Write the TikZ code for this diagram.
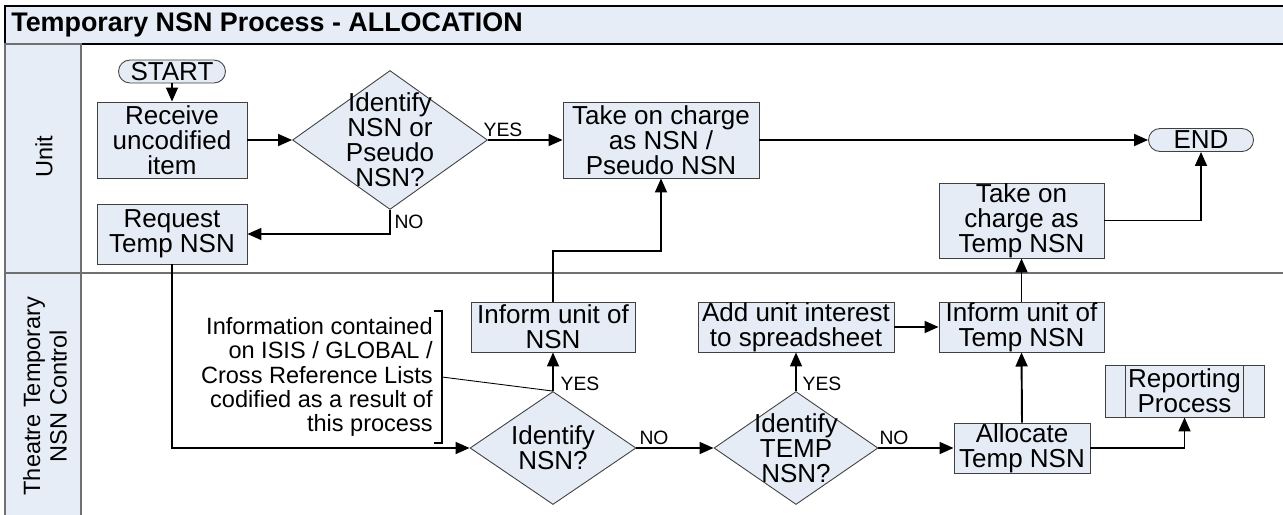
\documentclass[tikz,border=0pt]{standalone}
\usepackage{fontspec}
\setmainfont{Liberation Sans}
\usetikzlibrary{arrows.meta,shapes.geometric,calc}
\definecolor{boxfill}{HTML}{E6ECF6}
\definecolor{lanefill}{HTML}{E7EDF6}
\definecolor{boxline}{HTML}{404040}
\definecolor{laneline}{HTML}{707070}
\newcommand{\myboxfont}{\fontsize{14.8}{14.2}\selectfont\lineskiplimit=-20pt\relax}
\tikzset{
  boxfont/.style={font=\myboxfont},
  pbox/.style={draw=boxline, line width=0.5pt, fill=boxfill, align=center, inner sep=0pt, boxfont},
  term/.style={pbox, rounded corners=0.23cm},
  dia/.style={diamond, draw=boxline, line width=0.5pt, fill=boxfill, inner sep=0pt},
  dtext/.style={align=center, inner sep=0pt, boxfont},
  conn/.style={line width=1.1pt, -{Triangle[length=8pt,width=6.8pt]}},
  lbl/.style={font=\fontsize{11}{13}\selectfont, inner sep=1pt},
  lanetext/.style={rotate=90, align=center, font=\fontsize{13.4}{15}\selectfont},
}
\begin{document}
\begin{tikzpicture}[x=0.02cm, y=-0.02cm]
\clip (0,0) rectangle (1283,514);
% frame and lanes
\draw[black, line width=0.7pt, fill=lanefill] (5,6) rectangle (1300,44);
\draw[laneline, line width=1pt, fill=lanefill] (5,44) rectangle (81,273);
\draw[laneline, line width=1pt, fill=lanefill] (5,273) rectangle (81,530);
\draw[laneline, line width=1pt] (81,273) -- (1300,273);
\node[anchor=west, inner sep=0pt, font=\bfseries\fontsize{15.3}{18}\selectfont] (title) at (11,25) {Temporary NSN Process - ALLOCATION};
\node[lanetext] (unitlbl) at (44,157) {Unit};
\node[lanetext] (ttlbl) at (45,396) {Theatre Temporary\\NSN Control};
% nodes
\node[term, minimum width=2.14cm, minimum height=0.46cm] (start) at (172,71.5) {START};
\node[pbox, minimum width=3.0cm, minimum height=1.52cm] (receive) at (172,140) {Receive\\uncodified\\item};
\node[dia, minimum width=3.9cm, minimum height=2.78cm] (d1) at (390,140) {};
\node[dtext] (d1t) at (390,140) {Identify\\NSN or\\Pseudo\\NSN?};
\node[pbox, minimum width=3.92cm, minimum height=1.52cm] (take) at (661,140) {Take on charge\\as NSN /\\Pseudo NSN};
\node[term, minimum width=2.1cm, minimum height=0.46cm] (endn) at (1201,140) {END};
\node[pbox, minimum width=3.0cm, minimum height=1.2cm] (request) at (172,234) {Request\\Temp NSN};
\node[pbox, minimum width=3.3cm, minimum height=1.5cm] (temptake) at (1021.5,220.5) {Take on\\charge as\\Temp NSN};
\node[pbox, minimum width=3.3cm, minimum height=1.0cm] (infotemp) at (1021.5,327) {Inform unit of\\Temp NSN};
\node[pbox, minimum width=3.28cm, minimum height=1.0cm] (infonsn) at (553,327) {Inform unit of\\NSN};
\node[pbox, minimum width=3.92cm, minimum height=1.0cm] (addunit) at (796,327) {Add unit interest\\to spreadsheet};
\node[dia, minimum width=3.32cm, minimum height=2.26cm] (d2) at (553,448) {};
\node[dtext] (d2t) at (553,448) {Identify\\NSN?};
\node[dia, minimum width=3.28cm, minimum height=2.26cm] (d3) at (796,448) {};
\node[dtext] (d3t) at (796,448) {Identify\\TEMP\\NSN?};
\node[pbox, minimum width=2.72cm, minimum height=1.0cm] (alloc) at (1022,448) {Allocate\\Temp NSN};
\node[pbox, minimum width=3.18cm, minimum height=1.04cm] (report) at (1184.5,391) {Reporting\\Process};
\draw[boxline, line width=0.5pt] ([xshift=0.42cm]report.north west) -- ([xshift=0.42cm]report.south west);
\draw[boxline, line width=0.5pt] ([xshift=-0.42cm]report.north east) -- ([xshift=-0.42cm]report.south east);
% annotation
\node[anchor=east, align=right, inner sep=0pt, font=\fontsize{13.4}{13.8}\selectfont] (note) at (433,377) {Information contained\\on ISIS / GLOBAL /\\Cross Reference Lists\\codified as a result of\\this process};
\draw[line width=1.1pt] (434,311) -- (442,311) -- (442,443) -- (434,443);
\coordinate (brk) at (442,377);
\draw[line width=0.5pt] (brk) -- (d2.north);
% connectors
\draw[conn] (start.south) -- (receive.north);
\draw[conn] (receive.east) -- (d1.west);
\draw[conn] (d1.east) -- (take.west);
\draw[conn] (take.east) -- (endn.west);
\draw[conn] (d1.south) |- (request.east);
\draw[conn] (request.south) |- (d2.west);
\draw[conn] (d2.north) -- (infonsn.south);
\draw[conn] (infonsn.north) -- ++(0,-51) -| (take.south);
\draw[conn] (d2.east) -- (d3.west);
\draw[conn] (d3.north) -- (addunit.south);
\draw[conn] (addunit.east) -- (infotemp.west);
\draw[conn] (d3.east) -- (alloc.west);
\draw[conn] (alloc.north) -- (infotemp.south);
\draw[conn] (infotemp.north) -- (temptake.south);
\draw[conn] (temptake.east) -| (endn.south);
\draw[conn] (alloc.east) -| (report.south);
% labels
\node[lbl] (yes1) at (503,130) {YES};
\node[lbl] (no1) at (409,222) {NO};
\node[lbl] (yes2) at (580,384) {YES};
\node[lbl] (no2) at (654,438) {NO};
\node[lbl] (yes3) at (822,384) {YES};
\node[lbl] (no3) at (894,438) {NO};
\end{tikzpicture}
\end{document}
